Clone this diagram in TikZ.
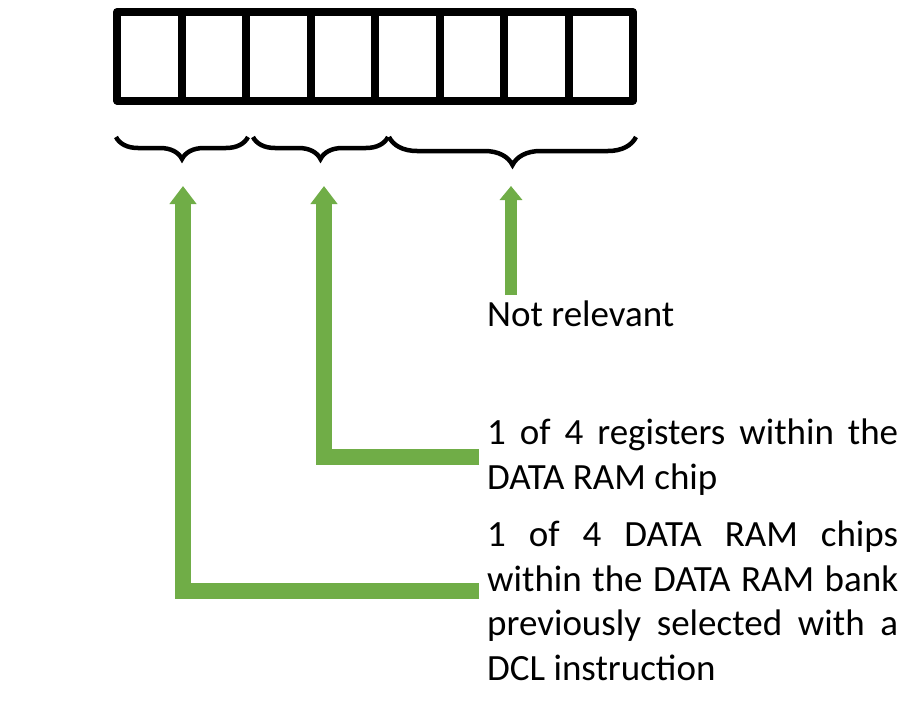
\documentclass[tikz,border=0pt]{standalone}
\usepackage{fontspec}
\setmainfont{Carlito}
\usepackage{xcolor}
\usetikzlibrary{arrows.meta,decorations.pathreplacing}

\definecolor{arrgreen}{RGB}{112,173,71}

\begin{document}
\begin{tikzpicture}[x=1pt,y=-1pt]
\useasboundingbox (0,0) rectangle (924,720);
\tikzset{
  regline/.style={line width=8pt,line join=round},
  bracket/.style={decorate,decoration={brace,mirror,amplitude=#1},line width=4.5pt},
  bigarrow/.style={draw=arrgreen,line width=16pt,line join=miter,-{Triangle[width=26pt,length=18pt]}},
  smallarrow/.style={draw=arrgreen,line width=12pt,-{Triangle[width=22pt,length=14pt]}},
  txt/.style={inner sep=0pt,font=\fontsize{37}{44.5}\selectfont},
  para/.style={txt,text width=411pt,align=justify,anchor=north west}
}

% Register (8 cells)
\draw[regline] (117,12) rectangle (633,100.5);
\foreach \i in {1,...,7}
  \draw[regline] ({117+64.5*\i},12) -- ({117+64.5*\i},100.5);

% Braces
\draw[bracket=22pt] (116,137) -- (248,137);
\draw[bracket=22pt] (253,137) -- (388,137);
\draw[bracket=28pt] (389,137) -- (636,137);

% Tips of the arrows
\coordinate (b1) at (183,186);
\coordinate (b2) at (324,186);
\coordinate (b3) at (511,186);

% Labels
\node[txt,inner ysep=5pt,anchor=base west] (nr) at (487,326) {Not relevant};
\node[para] (regs) at (487,419) {1 of 4 registers within the\linebreak DATA RAM chip};
\node[para] (chips) at (487,521) {1 of 4 DATA RAM chips\linebreak within the DATA RAM bank\linebreak previously selected with a\linebreak DCL instruction};

% Arrows
\draw[smallarrow] (nr.north -| b3) -- (b3);
\draw[bigarrow] ([xshift=-8pt,yshift=-38pt]regs.north west) -| (b2);
\draw[bigarrow] ([xshift=-8pt,yshift=-70pt]chips.north west) -| (b1);
\end{tikzpicture}
\end{document}
